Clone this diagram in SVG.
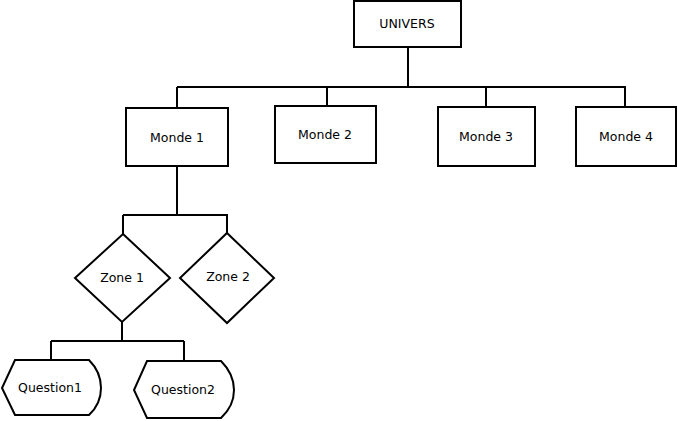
<svg xmlns="http://www.w3.org/2000/svg" width="678" height="421" viewBox="0 0 678 421">
<style>
.s{fill:#fff;stroke:#000;stroke-width:2}
.c{fill:none;stroke:#000;stroke-width:2}
text{font-family:"DejaVu Sans",sans-serif;font-size:12.5px;fill:#000;text-anchor:middle}
</style>
<rect width="678" height="421" fill="#fff"/>
<g id="connectors">
<path class="c" d="M408 47V87M177 87H626M177 87V108M327 87V106M486 87V107M625 87V107"/>
<path class="c" d="M177 166V215M123 215H228M123 215V234M227 215V233"/>
<path class="c" d="M122 322V341M51 341H184M51 341V360M184 341V361"/>
</g>
<g id="univers"><rect class="s" x="354" y="1" width="107" height="46"/><text x="407" y="28">UNIVERS</text></g>
<g id="monde1"><rect class="s" x="126" y="108" width="102" height="58"/><text x="177" y="142">Monde 1</text></g>
<g id="monde2"><rect class="s" x="275" y="106" width="101" height="57"/><text x="325" y="139">Monde 2</text></g>
<g id="monde3"><rect class="s" x="438" y="107" width="97" height="59"/><text x="486" y="141">Monde 3</text></g>
<g id="monde4"><rect class="s" x="576" y="107" width="100" height="59"/><text x="626" y="141">Monde 4</text></g>
<g id="zone1"><polygon class="s" points="123,234 170,278 122,322 75,278"/><text x="122" y="282">Zone 1</text></g>
<g id="zone2"><polygon class="s" points="227,233 274,278 227,323 180,278"/><text x="228" y="281">Zone 2</text></g>
<g id="question1"><path class="s" d="M15 360H89Q101 372 101 388Q101 404 89 415H15L2 388Z"/><text x="50" y="392">Question1</text></g>
<g id="question2"><path class="s" d="M147 361H221Q234 374 234 390Q234 406 221 418H147L134 390Z"/><text x="183" y="394">Question2</text></g>
</svg>
